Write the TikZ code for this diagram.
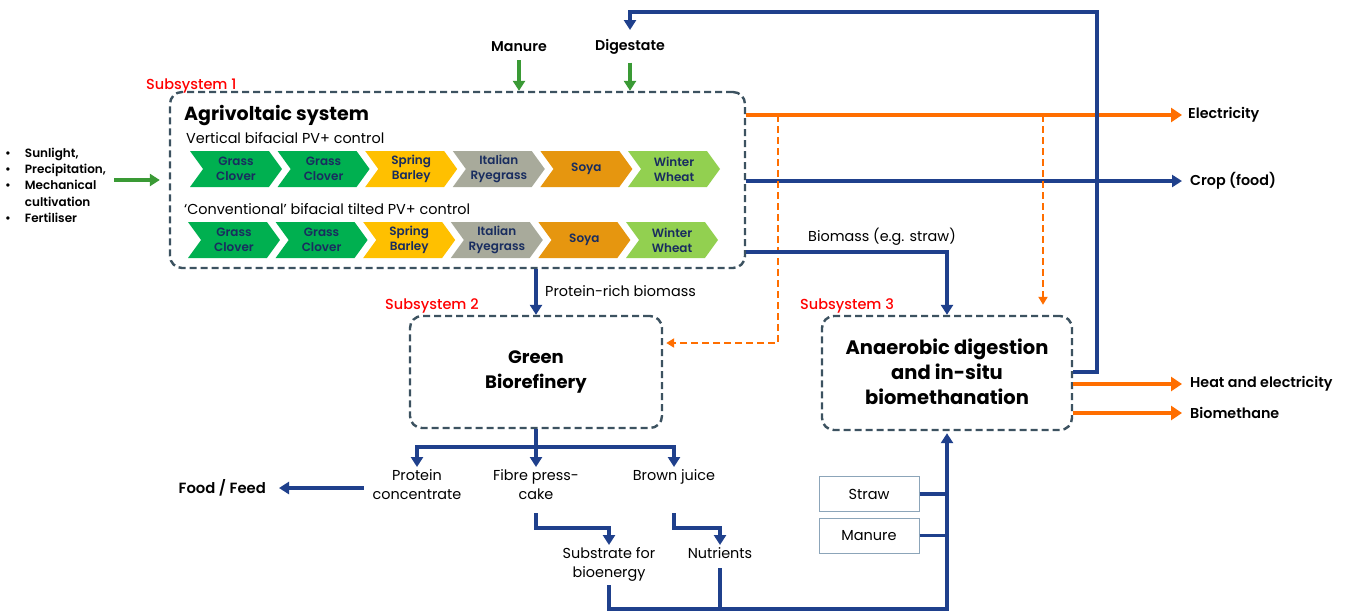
\documentclass[tikz,border=0pt]{standalone}
\usepackage{fontspec}
\setmainfont{Poppins}
\newfontfamily\medfont{Poppins Medium}
\newfontfamily\semifont{Poppins SemiBold}
\usetikzlibrary{arrows.meta,shapes.symbols}

\definecolor{navy}{RGB}{31,64,140}
\definecolor{flowor}{RGB}{255,110,0}
\definecolor{slate}{RGB}{60,82,96}
\definecolor{arrgreen}{RGB}{58,154,53}
\definecolor{cgreen}{RGB}{0,176,80}
\definecolor{cyellow}{RGB}{255,192,0}
\definecolor{cgray}{RGB}{168,170,155}
\definecolor{corange}{RGB}{230,150,15}
\definecolor{clight}{RGB}{146,208,80}
\definecolor{ctext}{RGB}{25,45,95}
\definecolor{srcline}{RGB}{140,165,185}
\definecolor{sysred}{RGB}{255,0,0}

\newcommand\fsz[2]{\fontsize{#1}{#2}\selectfont}

\tikzset{
  subsys/.style={draw=slate, line width=2.4pt, dash pattern=on 7pt off 4pt,
    rounded corners=12pt},
  navyline/.style={draw=navy, line width=3.2pt},
  flow/.style={navyline, -{Triangle[length=10pt,width=12pt]}},
  eflow/.style={draw=flowor, line width=4pt, -{Triangle[length=11pt,width=14pt]}},
  dflow/.style={draw=flowor, line width=2.2pt, dash pattern=on 7pt off 4pt,
    -{Triangle[length=8pt,width=9pt]}},
  gflow/.style={draw=arrgreen, line width=3.2pt, -{Triangle[length=10pt,width=12pt]}},
  crop/.style={shape=signal, signal from=west, signal to=east,
    signal pointer angle=108, minimum width=92pt, minimum height=36pt,
    inner sep=0pt, fill=#1, text=ctext, align=center,
    font=\semifont\fsz{12}{15}},
  syslabel/.style={text=sysred, inner sep=0pt, font=\medfont\fsz{14.5}{16}},
  outlabel/.style={inner sep=0pt, anchor=west, font=\semifont\fsz{14.3}{16}},
  txt/.style={inner sep=0pt, align=center, font=\fsz{14.4}{19}},
  plain/.style={inner sep=0pt, anchor=west, font=\fsz{14.4}{16}},
  srcbox/.style={draw=srcline, line width=1pt, minimum width=100pt,
    minimum height=35pt, inner sep=0pt, font=\fsz{14.5}{16}},
  title/.style={inner sep=0pt, align=center, font=\bfseries\fsz{19}{25}}
}

\begin{document}
\begin{tikzpicture}[x=1pt,y=-1pt]
\useasboundingbox[fill=white] (0,0) rectangle (1354,614);

% ---------- subsystem frames ----------
\node[subsys, minimum width=575pt, minimum height=176pt] (agri) at (457.5,180) {};
\node[subsys, minimum width=252pt, minimum height=112pt] (gbr) at (536,372) {};
\node[subsys, minimum width=250pt, minimum height=114pt] (ad) at (947,373) {};

\node[syslabel, anchor=west] (s1) at (146,86) {Subsystem 1};
\node[syslabel, anchor=west] (s2) at (385,306) {Subsystem 2};
\node[syslabel, anchor=west] (s3) at (800,306) {Subsystem 3};

% ---------- agrivoltaic system ----------
\node[inner sep=0pt, anchor=west, font=\bfseries\fsz{19}{22}] (agt) at (184,115) {Agrivoltaic system};
\node[plain] (vert) at (186,138) {Vertical bifacial PV+ control};
\node[plain] (conv) at (184,209) {‘Conventional’ bifacial tilted PV+ control};

% crop rotation, vertical PV
\node[crop=cgreen]  (a1) at (236,169)   {Grass\\Clover};
\node[crop=cgreen]  (a2) at (323.6,169) {Grass\\Clover};
\node[crop=cyellow] (a3) at (411.2,169) {Spring\\Barley};
\node[crop=cgray]   (a4) at (498.8,169) {Italian\\Ryegrass};
\node[crop=corange] (a5) at (586.4,169) {Soya};
\node[crop=clight]  (a6) at (674,169)   {Winter\\Wheat};
% crop rotation, tilted PV
\node[crop=cgreen]  (b1) at (234,240)   {Grass\\Clover};
\node[crop=cgreen]  (b2) at (321.6,240) {Grass\\Clover};
\node[crop=cyellow] (b3) at (409.2,240) {Spring\\Barley};
\node[crop=cgray]   (b4) at (496.8,240) {Italian\\Ryegrass};
\node[crop=corange] (b5) at (584.4,240) {Soya};
\node[crop=clight]  (b6) at (672,240)   {Winter\\Wheat};

% ---------- inputs ----------
\node[inner sep=0pt, anchor=north west, font=\semifont\fsz{12}{16.2}] (inputs) at (5,146)
  {\begin{tabular}{@{}l@{\hspace{14pt}}l@{}}
   •&Sunlight,\\ •&Precipitation,\\ •&Mechanical\\ &cultivation\\ •&Fertiliser
   \end{tabular}};
\draw[gflow] ([xshift=8pt]inputs.east |- agri.west) -- ([xshift=-9pt]agri.west);

\node[inner sep=0pt, font=\semifont\fsz{14.2}{16}] (manure) at (519,47) {Manure};
\node[inner sep=0pt, font=\semifont\fsz{14.2}{16}] (digest) at (630,47) {Digestate};
\draw[gflow] ([yshift=-8pt]manure.south) -- (manure.south |- agri.north);
\draw[gflow] ([yshift=-8pt]digest.south) -- (digest.south |- agri.north);

% ---------- outputs of subsystem 1 ----------
\node[outlabel] (elec) at (1188,115) {Electricity};
\node[outlabel] (cropf) at (1190,181) {Crop (food)};
\draw[eflow] (agri.east |- elec.west) -- ([xshift=-6pt]elec.west);
\draw[flow] (agri.east |- cropf.west) -- ([xshift=-8pt]cropf.west);

\coordinate (tapA) at (778,115);
\coordinate (tapB) at (1043,115);
\draw[dflow] (tapA) |- ([xshift=3pt,yshift=29pt]gbr.east);
\draw[dflow] (tapB) -- ([yshift=10pt]tapB |- ad.north);

\node[plain] (bmlab) at (808,237) {Biomass (e.g. straw)};
\draw[flow] ([yshift=-72pt]agri.east) -| (ad.north);

\draw[flow] (gbr.north |- agri.south) -- (gbr.north);
\node[plain] (prlab) at (545,291) {Protein-rich biomass};

% digestate loop back to the field
\coordinate (loopc) at (1097,12);
\coordinate (digtop) at (630,30);
\draw[flow] ([yshift=1pt]ad.east) -| (loopc) -| (digtop);

% ---------- subsystem titles ----------
\node[title, font=\bfseries\fsz{18}{25}] (gbrt) at (536,372) {Green\\Biorefinery};
\node[title, font=\bfseries\fsz{19.5}{25}] (adt) at (947,372) {Anaerobic digestion\\and in-situ\\biomethanation};

% ---------- outputs of subsystem 3 ----------
\node[outlabel] (heat) at (1190,384) {Heat and electricity};
\node[outlabel] (bmeth) at (1190,413) {Biomethane};
\draw[eflow] (ad.east |- heat.west) -- ([xshift=-8pt]heat.west);
\draw[eflow] (ad.east |- bmeth.west) -- ([xshift=-8pt]bmeth.west);

% ---------- biorefinery products ----------
\node[txt, anchor=north] (pc) at (417,469) {Protein\\concentrate};
\node[txt, anchor=north] (fp) at (536,469) {Fibre press-\\cake};
\node[txt, anchor=north] (bj) at (674,469) {Brown juice};
\node[inner sep=0pt, anchor=east, font=\semifont\fsz{14.8}{16}] (ff) at (266,488) {Food / Feed};

\coordinate (split) at (536,447);
\draw[navyline] (gbr.south) -- (split);
\draw[flow] (split) -| ([yshift=2pt]pc.north);
\draw[flow] (split) -- ([yshift=2pt]fp.north);
\draw[flow] (split) -| ([yshift=2pt]bj.north);
\draw[flow] ([xshift=-9pt]pc.west |- ff.east) -- ([xshift=13pt]ff.east);

\node[txt, anchor=north] (sb) at (609,547) {Substrate for\\bioenergy};
\node[txt, anchor=north] (nu) at (720,547) {Nutrients};
\draw[flow] (fp.south |- 0,513) -- ++(0,15) -| ([yshift=2pt]sb.north);
\draw[flow] (bj.south |- 0,513) -- ++(0,15) -| ([yshift=2pt]nu.north);

% ---------- feedstock to anaerobic digestion ----------
\node[srcbox] (straw) at (869,494) {Straw};
\node[srcbox] (manb) at (869,535.5) {Manure};
\coordinate (bot) at (947,609);
\draw[flow] ([yshift=-4pt]sb.south) |- (bot) -- ([yshift=-2pt]ad.south);
\draw[navyline] (nu.south |- 0,568) -- (nu.south |- bot);
\draw[navyline] (straw.east) -- (straw.east -| ad.south);
\draw[navyline] (manb.east) -- (manb.east -| ad.south);
\end{tikzpicture}
\end{document}
